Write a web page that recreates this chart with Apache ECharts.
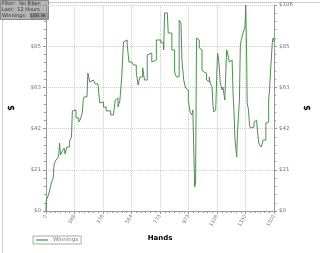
<!DOCTYPE html>
<html><head><meta charset="utf-8">
<script src="https://cdn.jsdelivr.net/npm/echarts@6/dist/echarts.min.js"></script>
<style>html,body{margin:0;padding:0;background:#fff}#c{width:320px;height:253px}</style>
</head><body><div id="c"></div>
<script>
const hands = [0,3,12,24,36,48,54,66,78,84,90,96,108,120,126,138,156,168,174,186,198,216,228,240,246,252,270,276,288,300,312,324,342,354,366,378,396,426,444,456,468,474,486,498,504,510,522,534,546,564,576,594,606,618,636,648,666,678,696,708,726,738,756,768,774,780,798,804,816,828,846,858,870,876,888,894,906,918,930,936,948,960,966,972,978,984,990,1002,1008,1014,1026,1038,1044,1056,1068,1074,1080,1092,1098,1104,1116,1128,1134,1140,1146,1158,1164,1176,1188,1194,1206,1212,1224,1230,1236,1242,1254,1260,1272,1278,1284,1296,1302,1308,1314,1320,1323,1332,1338,1344,1356,1368,1374,1386,1398,1404,1416,1428,1446,1458,1464,1470,1476,1488,1494,1500];
const winnings = [0,5.7,7.2,10.3,14.4,17.0,24.2,26.2,27.3,28.8,35.0,28.8,30.9,32.4,29.3,32.9,36.0,38.1,51.5,52.0,47.9,45.8,47.3,50.9,57.6,58.7,59.2,71.0,66.4,67.4,68.4,65.4,66.4,55.6,56.1,53.5,51.5,49.4,50.4,57.1,58.1,53.5,56.6,68.4,77.7,87.0,88.0,85.9,76.7,76.2,75.1,71.5,64.8,69.0,73.6,67.4,80.3,81.3,76.7,77.7,88.0,88.0,86.5,86.5,82.9,101.9,101.4,91.6,91.6,82.9,71.5,69.0,69.0,98.3,96.7,77.7,67.4,63.3,62.3,57.1,50.9,49.4,52.0,31.4,12.4,14.4,89.0,88.0,83.9,82.9,72.6,71.5,71.0,67.4,66.4,69.0,65.9,63.8,54.5,50.9,52.0,81.3,78.7,73.6,65.9,62.3,63.8,57.1,82.9,81.3,76.7,77.7,77.7,60.7,52.0,38.1,27.8,41.7,57.1,85.4,88.0,91.6,93.1,94.7,106.0,77.7,55.6,52.0,44.3,42.7,43.2,45.8,46.8,45.3,35.5,34.0,32.9,36.5,45.3,45.8,57.1,62.3,71.0,86.5,89.0,87.0];
const xTickLabels = ["0","188","376","564","773","973","1106","1350","1500"];
const yTickLabels = ["$0","$21","$42","$63","$85","$106"];
const infoLines = ["Filter:  No Filter","Last:  12 Hours","Winnings:  $88.90"];

const X_MAX = 1500, X_STEP = 187.5, Y_MAX = 106, Y_STEP = 21.2;
const xFmt = v => xTickLabels[Math.round(v / X_STEP)] || '';
const yFmt = v => yTickLabels[Math.round(v / Y_STEP)] || '';
const chart = echarts.init(document.getElementById('c'), null, {renderer:'canvas'});
const axisStyle = {lineStyle:{color:'#999',width:1}};
const yCommon = {
  type:'value', min:0, max:Y_MAX, interval:Y_STEP,
  name:'$', nameLocation:'middle', nameTextStyle:{fontSize:8,fontWeight:'bold',color:'#000',fontFamily:'DejaVu Sans'},
  axisLine:{show:true, ...axisStyle},
  axisTick:{show:true,length:3,lineStyle:{color:'#999'}},
  minorTick:{show:true,splitNumber:5,length:2,lineStyle:{color:'#999'}},
  axisLabel:{fontSize:5.5,color:'#777',formatter:yFmt,fontFamily:'DejaVu Sans',margin:5}
};
chart.setOption({
  animation:false,
  grid:{left:34,right:36,top:5,bottom:42},
  legend:{left:33,top:236,data:['Winnings'],orient:'horizontal',
    borderColor:'#aaa',borderWidth:1,padding:[1,3,1,3],itemWidth:12,itemHeight:2,itemGap:2,
    icon:'rect',textStyle:{fontSize:5.5,color:'#777',fontFamily:'DejaVu Sans',padding:[0,0,0,0]}},
  xAxis:{type:'value',min:0,max:X_MAX,interval:X_STEP,
    name:'Hands',nameLocation:'middle',nameGap:20,nameTextStyle:{fontSize:7,fontWeight:'bold',color:'#000',fontFamily:'DejaVu Sans'},
    axisLine:{show:true,onZero:false,...axisStyle},
    axisTick:{show:true,length:3,lineStyle:{color:'#999'}},
    minorTick:{show:true,splitNumber:6,length:2,lineStyle:{color:'#999'}},
    axisLabel:{fontSize:5,color:'#777',rotate:60,formatter:xFmt,fontFamily:'DejaVu Sans',margin:4},
    splitLine:{show:true,lineStyle:{color:'#ccc',type:'dotted',width:1}}
  },
  yAxis:[
    {...yCommon, position:'left', nameGap:22,
      splitLine:{show:true,lineStyle:{color:'#ccc',type:'dotted',width:1}}},
    {...yCommon, position:'right', nameGap:22, splitLine:{show:false}}
  ],
  series:[{
    name:'Winnings', type:'line', yAxisIndex:0, showSymbol:false, symbol:'none', step:'end',
    data: hands.map((h,i)=>[h,winnings[i]]),
    lineStyle:{color:'#4f8f4f',width:1},
    itemStyle:{color:'#8fbf8f'}
  }],
  graphic:[
    {type:'rect',left:0,top:0,shape:{width:319,height:251},style:{fill:'none',stroke:'#ccc',lineWidth:1},z:-1,silent:true},
    {type:'group',left:0,top:0,z:100,children:[
      {type:'rect',shape:{x:0.5,y:0.5,width:48,height:19},style:{fill:'#b4b4b4',stroke:'#888',lineWidth:1}},
      {type:'rect',shape:{x:30,y:13,width:18,height:6},style:{fill:'#9a9a9a'}},
      {type:'text',x:2,y:1,style:{text:infoLines[0],fontSize:5,fill:'#333',fontFamily:'DejaVu Sans'}},
      {type:'text',x:2,y:7,style:{text:infoLines[1],fontSize:5,fill:'#333',fontFamily:'DejaVu Sans'}},
      {type:'text',x:2,y:13,style:{text:infoLines[2],fontSize:5,fill:'#333',fontFamily:'DejaVu Sans'}}
    ]}
  ]
});
</script></body></html>
